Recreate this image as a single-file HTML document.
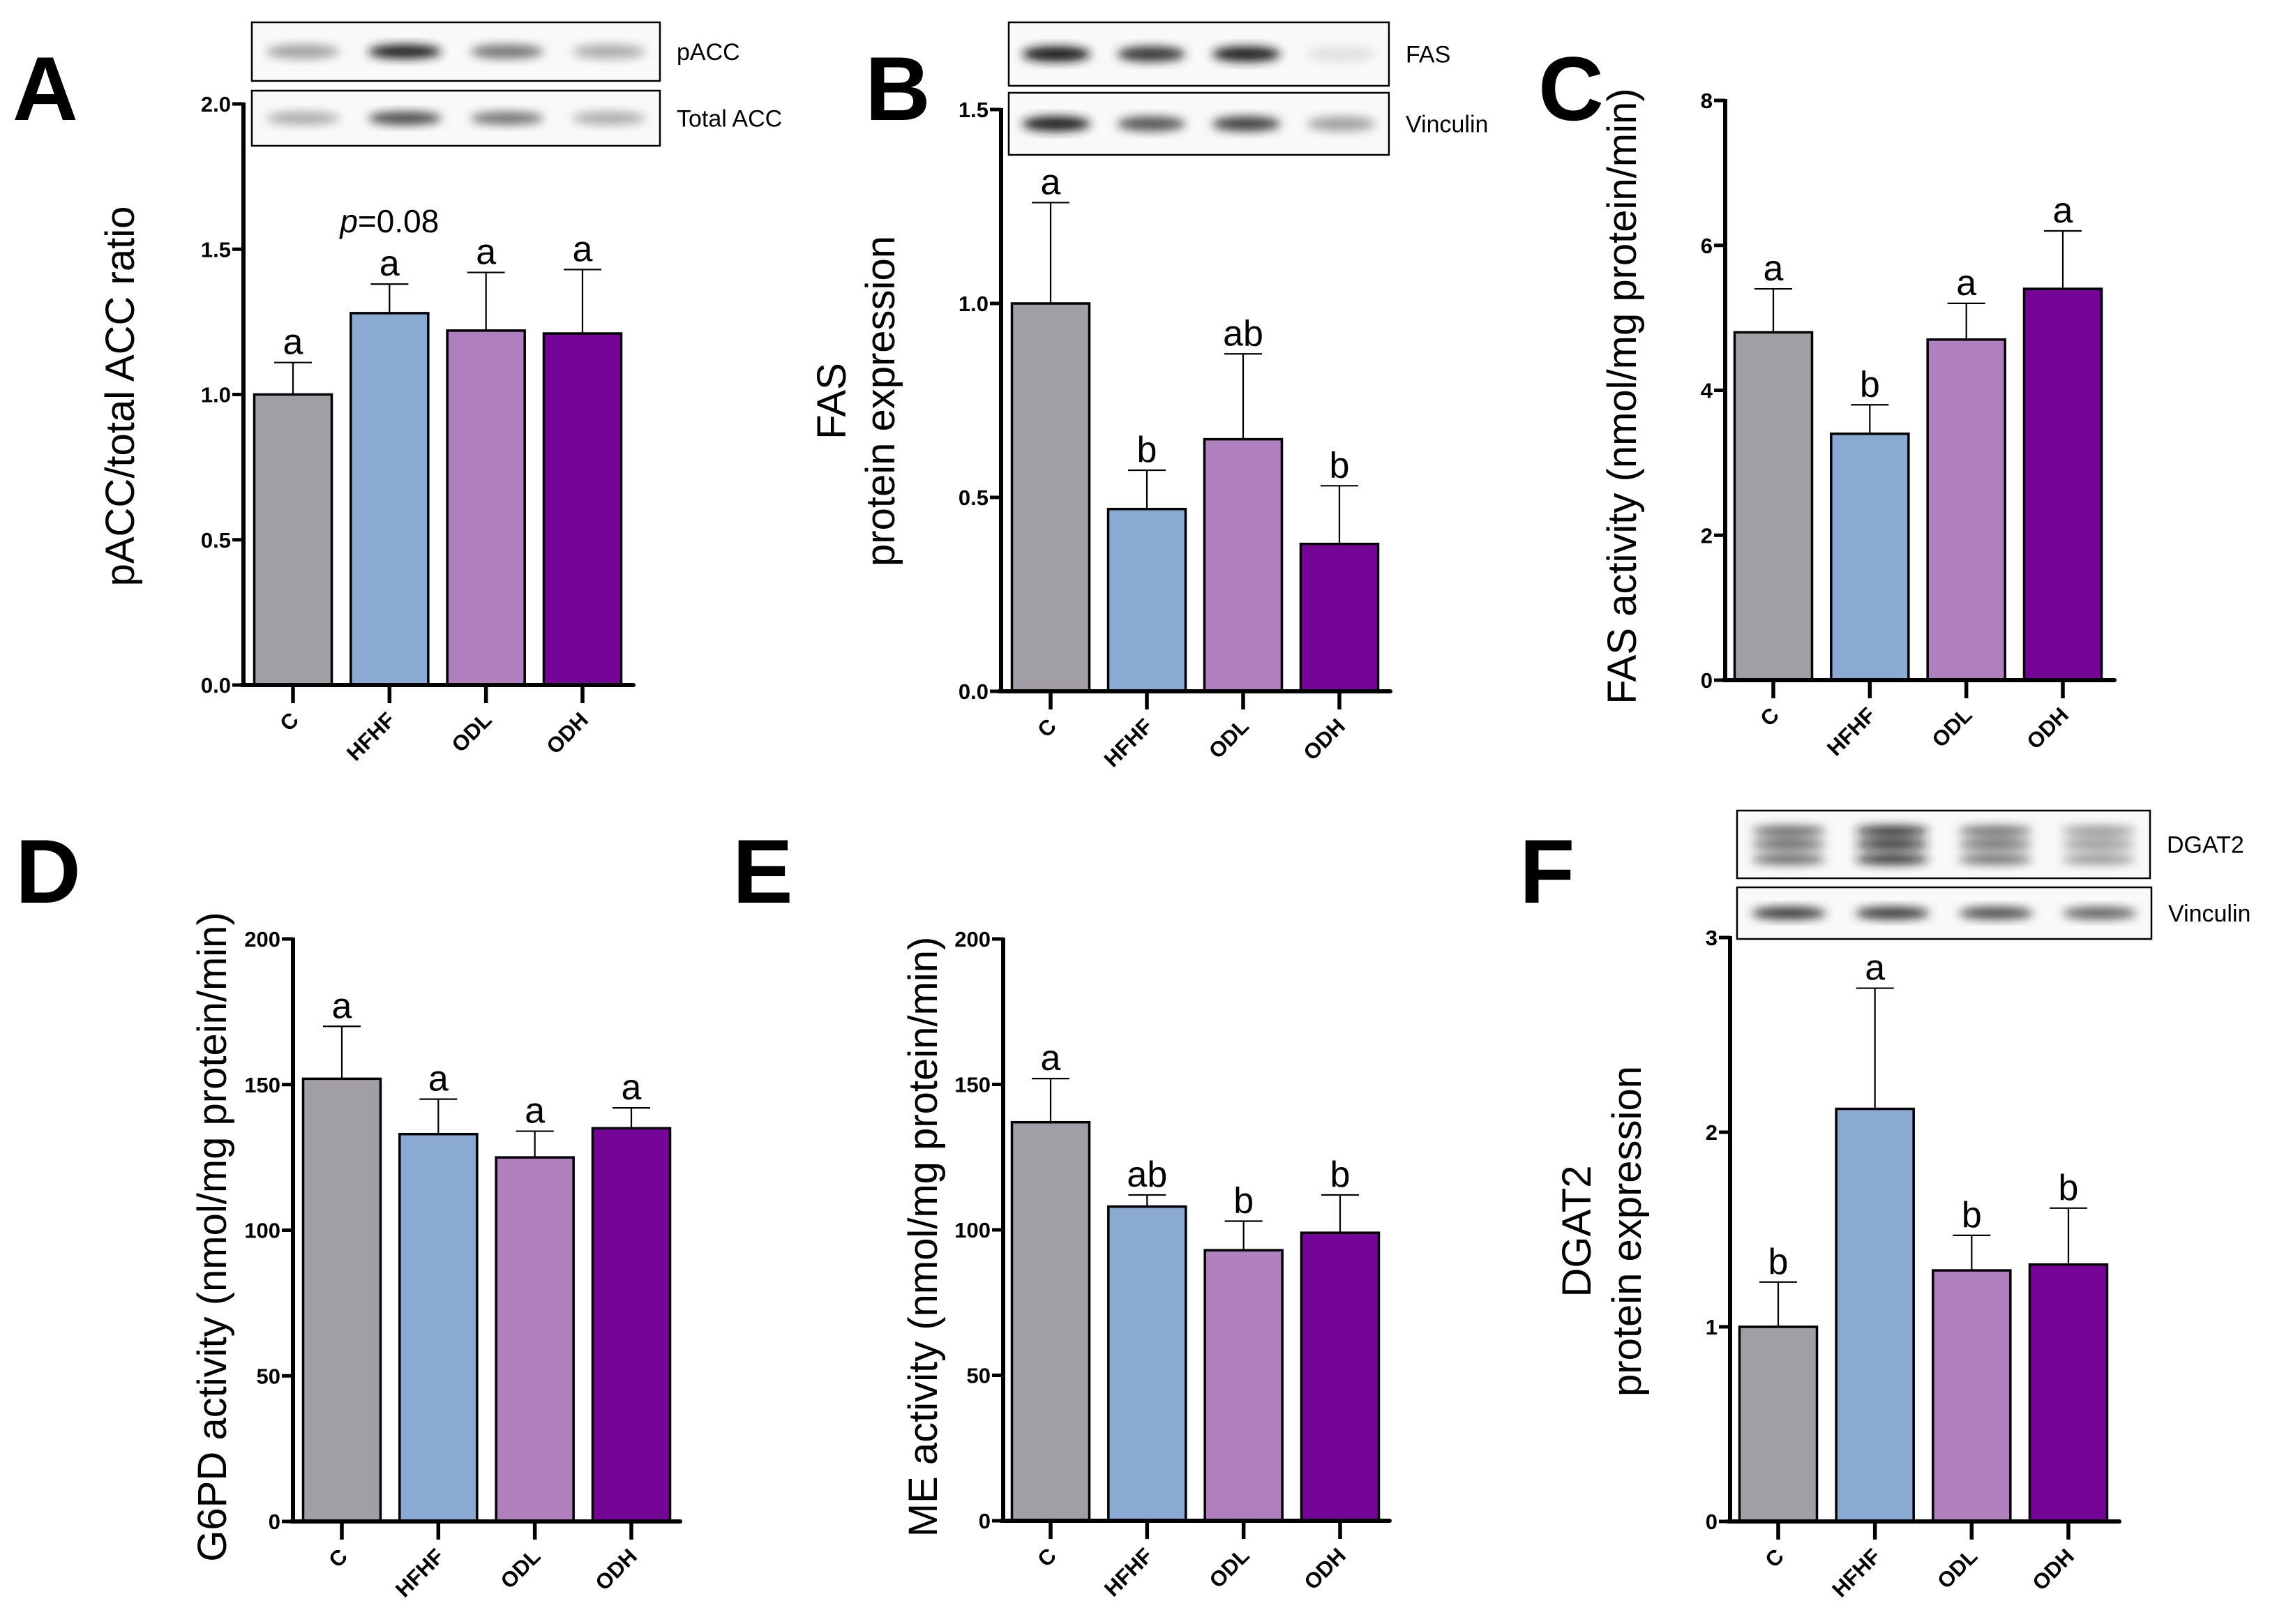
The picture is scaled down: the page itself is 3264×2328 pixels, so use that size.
<!DOCTYPE html>
<html><head><meta charset="utf-8"><style>
html,body{margin:0;padding:0;background:#fff;}
svg{display:block;}
text{font-family:"Liberation Sans",sans-serif;}
</style></head><body>
<svg id="fig" width="3264" height="2328" viewBox="0 0 3264 2328" xmlns="http://www.w3.org/2000/svg">
<defs>
<filter id="blur" x="-20%" y="-50%" width="140%" height="200%"><feGaussianBlur stdDeviation="7"/></filter>
</defs>
</svg>
<script>
const groups = ["C","HFHF","ODL","ODH"];
const colors = ["#a19fa5","#8aaad4","#b07fbe","#740596"];
// Panel A
const aMeans = [1.00,1.28,1.22,1.21];
const aErrs  = [0.11,0.10,0.20,0.22];
const aSig   = ["a","a","a","a"];
const aTicks = ["0.0","0.5","1.0","1.5","2.0"];
// Panel B
const bMeans = [1.00,0.47,0.65,0.38];
const bErrs  = [0.26,0.10,0.22,0.15];
const bSig   = ["a","b","ab","b"];
const bTicks = ["0.0","0.5","1.0","1.5"];
// Panel C
const cMeans = [4.8,3.4,4.7,5.4];
const cErrs  = [0.6,0.4,0.5,0.8];
const cSig   = ["a","b","a","a"];
const cTicks = ["0","2","4","6","8"];
// Panel D
const dMeans = [152,133,125,135];
const dErrs  = [18,12,9,7];
const dSig   = ["a","a","a","a"];
const dTicks = ["0","50","100","150","200"];
// Panel E
const eMeans = [137,108,93,99];
const eErrs  = [15,4,10,13];
const eSig   = ["a","ab","b","b"];
const eTicks = ["0","50","100","150","200"];
// Panel F
const fMeans = [1.00,2.12,1.29,1.32];
const fErrs  = [0.23,0.62,0.18,0.29];
const fSig   = ["b","a","b","b"];
const fTicks = ["0","1","2","3"];
// blot band intensities (0..1)
const blotA1 = [0.35,0.95,0.55,0.3];
const blotA2 = [0.3,0.75,0.55,0.3];
const blotB1 = [1.0,0.85,0.95,0.05];
const blotB2 = [0.95,0.7,0.8,0.35];
const blotF1 = [0.7,0.95,0.65,0.45];
const blotF2 = [0.85,0.85,0.75,0.65];

const NS="http://www.w3.org/2000/svg";
const svg=document.getElementById('fig');
function mk(tag,attrs,parent){const e=document.createElementNS(NS,tag);for(const k in attrs)e.setAttribute(k,attrs[k]);(parent||svg).appendChild(e);return e;}

function panel(p){
  const g=mk('g',{});
  
  
  const ymax=parseFloat(p.ticks[p.ticks.length-1]);
  const yS=v=>p.y0-(v/ymax)*(p.y0-p.yTop);
  const step=(p.c3-p.c0)/3;
  const xS=i=>p.c0+i*step;
  const bw=111;
  const L=mk('text',{x:p.lx,y:p.ly,'font-size':130,'font-weight':'bold',fill:'#000'},g);
  L.textContent=p.id.toUpperCase();
  
  
  p.means.forEach((m,i)=>{
    const cx=xS(i), top=yS(m), et=yS(m+p.errs[i]);
    const ln=mk('line',{x1:cx,x2:cx,y1:top,y2:et,stroke:'#000','stroke-width':2.2},g);
    
    
    const cp=mk('line',{x1:cx-27,x2:cx+27,y1:et,y2:et,stroke:'#000','stroke-width':2.2},g);
    
    
    const r=mk('rect',{x:cx-bw/2,y:top,width:bw,height:p.y0-top,fill:colors[i],stroke:'#000','stroke-width':3.5},g);
    
    
    const s=mk('text',{x:cx,y:et-12,'font-size':52,'text-anchor':'middle',fill:'#000'},g);
    s.textContent=p.sig[i];
    
    
    const t=mk('line',{x1:cx,x2:cx,y1:p.y0,y2:p.y0+26,stroke:'#000','stroke-width':5.5},g);
    
    
    const lx=cx+10, ly=p.y0+52;
    const xl=mk('text',{x:lx,y:ly,'font-size':31,'font-weight':'bold','text-anchor':'end',transform:`rotate(-45 ${lx} ${ly})`,fill:'#000'},g);
    xl.textContent=groups[i];
    
    
  });
  const ya=mk('line',{x1:p.ax,x2:p.ax,y1:p.yTop-2,y2:p.y0+3,stroke:'#000','stroke-width':6},g);
  
  
  const xa=mk('line',{x1:p.ax-3,x2:p.xEnd,y1:p.y0,y2:p.y0,stroke:'#000','stroke-width':6,'stroke-linecap':'round'},g);
  
  
  p.ticks.forEach(tl=>{
    const y=yS(parseFloat(tl));
    const t=mk('line',{x1:p.ax-16,x2:p.ax,y1:y,y2:y,stroke:'#000','stroke-width':5},g);
    
    
    const tx=mk('text',{x:p.ax-18,y:y+11,'font-size':31,'font-weight':'bold','text-anchor':'end',fill:'#000'},g);
    tx.textContent=tl;
    
    
  });
  p.title.forEach((line,k)=>{
    const tx=p.tx[k];
    const t=mk('text',{x:tx,y:p.ty,'font-size':58,'text-anchor':'middle',transform:`rotate(-90 ${tx} ${p.ty})`,fill:'#000'},g);
    t.textContent=line;
    
    
  });
  (p.blots||[]).forEach(b=>{
    const bg=mk('g',{},g);
    
    
    mk('rect',{x:b.x,y:b.y,width:b.w,height:b.h,fill:'#f9f9f9',stroke:'#000','stroke-width':2.5},bg);
    const bandG=mk('g',{filter:'url(#blur)'},bg);
    const lw=b.w/4;
    b.int.forEach((v,i)=>{
      const cx=b.x+lw*(i+0.5);
      const gray=Math.round(235-215*v);
      (b.rows||[0.5]).forEach(rf=>{
        mk('ellipse',{cx:cx,cy:b.y+b.h*rf,rx:lw*0.36,ry:b.h*(b.rows?0.07:0.12),fill:`rgb(${gray},${gray},${gray})`},bandG);
      });
    });
    const lt=mk('text',{x:b.x+b.w+24,y:b.y+b.h/2+12,'font-size':34,fill:'#000'},bg);
    lt.textContent=b.label;
    
    
  });
  return {g,xS,yS};
}

const A=panel({id:'a',means:aMeans,errs:aErrs,sig:aSig,ticks:aTicks,ax:349,y0:982,yTop:149,c0:420,c3:835,xEnd:908,
  lx:18,ly:172,title:['pACC/total ACC ratio'],tx:[192],ty:568,
  blots:[{x:361,y:32,w:585,h:84,int:blotA1,label:'pACC'},{x:361,y:130,w:585,h:79,int:blotA2,label:'Total ACC'}]});
const pt=mk('text',{x:A.xS(1),y:333,'font-size':46,'text-anchor':'middle',fill:'#000'});
pt.innerHTML='<tspan font-style="italic">p</tspan>=0.08';



panel({id:'b',means:bMeans,errs:bErrs,sig:bSig,ticks:bTicks,ax:1435,y0:991,yTop:157,c0:1506,c3:1920,xEnd:1993,
  lx:1240,ly:172,title:['FAS','protein expression'],tx:[1212,1282],ty:575,
  blots:[{x:1446,y:32,w:545,h:91,int:blotB1,label:'FAS'},{x:1446,y:133,w:545,h:89,int:blotB2,label:'Vinculin'}]});
panel({id:'c',means:cMeans,errs:cErrs,sig:cSig,ticks:cTicks,ax:2473,y0:975,yTop:144,c0:2542,c3:2957,xEnd:3031,
  lx:2205,ly:172,title:['FAS activity (nmol/mg protein/min)'],tx:[2345],ty:568});
panel({id:'d',means:dMeans,errs:dErrs,sig:dSig,ticks:dTicks,ax:420,y0:2181,yTop:1346,c0:490,c3:905,xEnd:975,
  lx:22,ly:1294,title:['G6PD activity (nmol/mg protein/min)'],tx:[324],ty:1773});
panel({id:'e',means:eMeans,errs:eErrs,sig:eSig,ticks:eTicks,ax:1438,y0:2180,yTop:1346,c0:1506,c3:1921,xEnd:1992,
  lx:1050,ly:1294,title:['ME activity (nmol/mg protein/min)'],tx:[1343],ty:1773});
panel({id:'f',means:fMeans,errs:fErrs,sig:fSig,ticks:fTicks,ax:2480,y0:2181,yTop:1344,c0:2549,c3:2965,xEnd:3038,
  lx:2178,ly:1294,title:['DGAT2','protein expression'],tx:[2280,2352],ty:1765,
  blots:[{x:2490,y:1162,w:592,h:97,int:blotF1,label:'DGAT2',rows:[0.3,0.5,0.72]},{x:2490,y:1272,w:594,h:74,int:blotF2,label:'Vinculin'}]});
</script>
</body></html>
